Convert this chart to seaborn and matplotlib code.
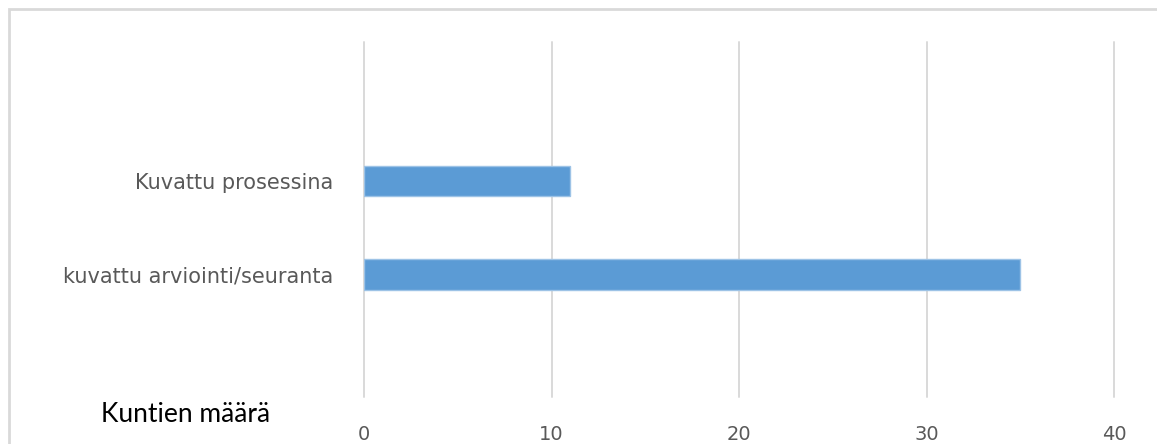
import matplotlib
matplotlib.use("Agg")
import matplotlib.pyplot as plt
from matplotlib.patches import Rectangle
import seaborn as sns
import pandas as pd

categories = ["Kuvattu prosessina", "kuvattu arviointi/seuranta"]
counts = [11, 35]
x_ticks = [0, 10, 20, 30, 40]
axis_note = "Kuntien määrä"

sns.set_theme(style="white")
plt.rcParams["font.family"] = ["DejaVu Sans"]

df = pd.DataFrame({"kategoria": categories, "kunnat": counts})

fig = plt.figure(figsize=(11.57, 4.44), dpi=100)
ax = fig.add_axes([364 / 1157, 1 - 397 / 444, (1114 - 364) / 1157, (397 - 42) / 444])

sns.barplot(data=df, y="kategoria", x="kunnat", orient="h", ax=ax,
            color="#5b9bd5", edgecolor="#9dc3e6", linewidth=1.0,
            width=0.33, saturation=1)

ax.set_xlim(0, 40)
ax.set_ylim(2.32, -1.495)
ax.set_xticks(x_ticks)
ax.set_xticklabels([str(t) for t in x_ticks])
ax.grid(axis="x", color="#d9d9d9", linewidth=1.4)
for gl in ax.get_xgridlines():
    gl.set_clip_on(False)
ax.set_axisbelow(True)
for s in ax.spines.values():
    s.set_visible(False)
ax.set_xlabel("")
ax.set_ylabel("")
ax.tick_params(axis="x", length=0, pad=20, labelsize=14, labelcolor="#595959")
ax.tick_params(axis="y", length=0, pad=22, labelsize=15, labelcolor="#595959")

fig.text(101 / 1157, 1 - 414 / 444, axis_note, fontsize=19, color="black",
         family=["Lato", "DejaVu Sans"], va="center", ha="left")

# outer chart frame
fig.patches.append(Rectangle((9 / 1157, -0.1), 1.2, 1 - 9 / 444 + 0.1,
                             transform=fig.transFigure, fill=False,
                             edgecolor="#d9d9d9", linewidth=2))

fig.savefig("out.png", dpi=100, facecolor="white")
